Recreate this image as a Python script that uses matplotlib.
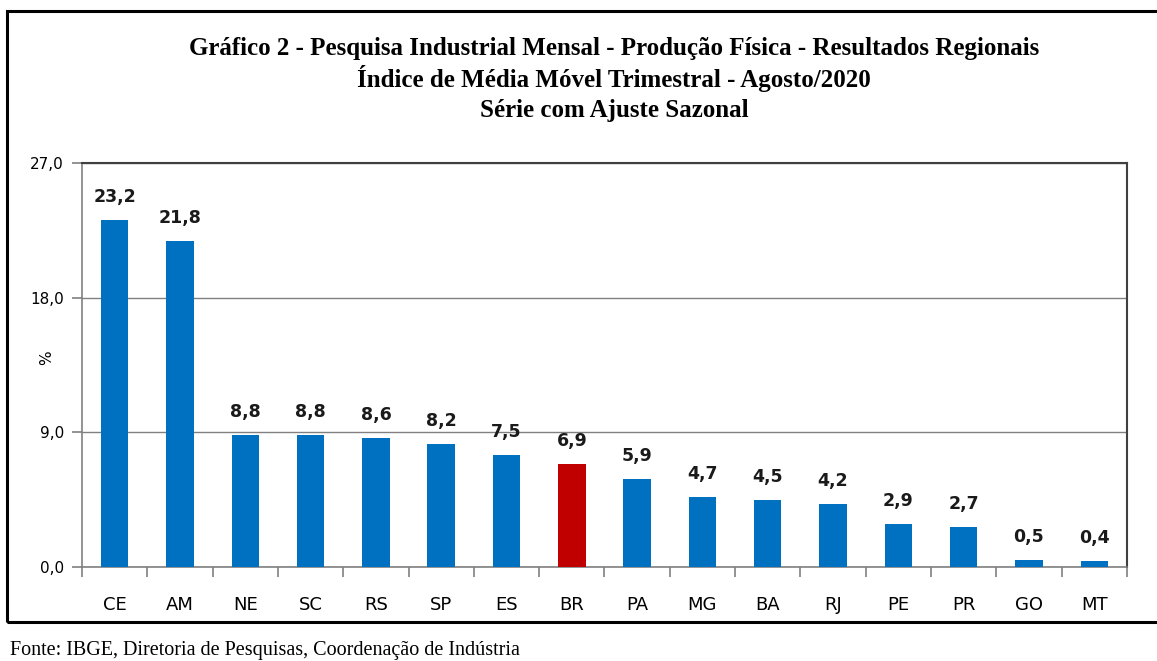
import matplotlib.pyplot as plt
from matplotlib.patches import Rectangle

regioes = ["CE", "AM", "NE", "SC", "RS", "SP", "ES", "BR",
           "PA", "MG", "BA", "RJ", "PE", "PR", "GO", "MT"]
valores = [23.2, 21.8, 8.8, 8.8, 8.6, 8.2, 7.5, 6.9,
           5.9, 4.7, 4.5, 4.2, 2.9, 2.7, 0.5, 0.4]
yticks = [0.0, 9.0, 18.0, 27.0]

azul = '#0070C0'
vermelho = '#C00000'
cores = [vermelho if r == "BR" else azul for r in regioes]

fig = plt.figure(figsize=(11.57, 6.61), dpi=100)
ax = fig.add_axes([0.0709, 0.1422, 0.9031, 0.6112])

x = list(range(len(regioes)))
bars = ax.bar(x, valores, width=0.42, color=cores, zorder=3)

for xi, v in zip(x, valores):
    ax.annotate(f"{v:.1f}".replace('.', ','), (xi, v), xytext=(0, 10),
                textcoords='offset points', ha='center', va='bottom',
                fontsize=12.5, fontweight='bold', color='#1a1a1a')

ax.set_xlim(-0.5, len(regioes) - 0.5)
ax.set_ylim(0, 27)
ax.set_yticks(yticks)
ax.set_yticklabels([f"{t:.1f}".replace('.', ',') for t in yticks], fontsize=11)
ax.yaxis.grid(True, color='#808080', linewidth=1, zorder=0)

ax.set_xticks(x)
ax.set_xticklabels(regioes, fontsize=13)
ax.set_xticks([i - 0.5 for i in range(len(regioes) + 1)], minor=True)
ax.tick_params(axis='x', which='major', length=0, pad=21)
ax.tick_params(axis='x', which='minor', length=7, color='#808080', width=1.2)
ax.tick_params(axis='y', length=7, color='#808080', width=1.2, pad=6)

ax.spines['left'].set_color('#808080')
ax.spines['bottom'].set_color('#808080')
ax.spines['left'].set_linewidth(1.2)
ax.spines['bottom'].set_linewidth(1.2)
ax.spines['top'].set_color('#404040')
ax.spines['right'].set_color('#404040')
ax.spines['top'].set_linewidth(1.5)
ax.spines['right'].set_linewidth(1.5)

ax.set_ylabel("%", fontsize=11)
ax.yaxis.set_label_coords(-0.027, 0.517)

titulo = ["Gráfico 2 - Pesquisa Industrial Mensal - Produção Física - Resultados Regionais",
          "Índice de Média Móvel Trimestral - Agosto/2020",
          "Série com Ajuste Sazonal"]
for ypix, linha in zip([48, 78, 111], titulo):
    fig.text(0.531, 1 - ypix / 661, linha, ha='center', va='center',
             fontsize=18, fontweight='bold', family='Liberation Serif')

fig.text(0.009, 1 - 650 / 661, "Fonte: IBGE, Diretoria de Pesquisas, Coordenação de Indústria",
         ha='left', va='center', fontsize=14.5, family='Liberation Serif')

fig.patches.append(Rectangle((0.006, 0.059), 1.1, 0.924, transform=fig.transFigure,
                             fill=False, edgecolor='black', linewidth=2.2))

fig.savefig("out.png", dpi=100)
